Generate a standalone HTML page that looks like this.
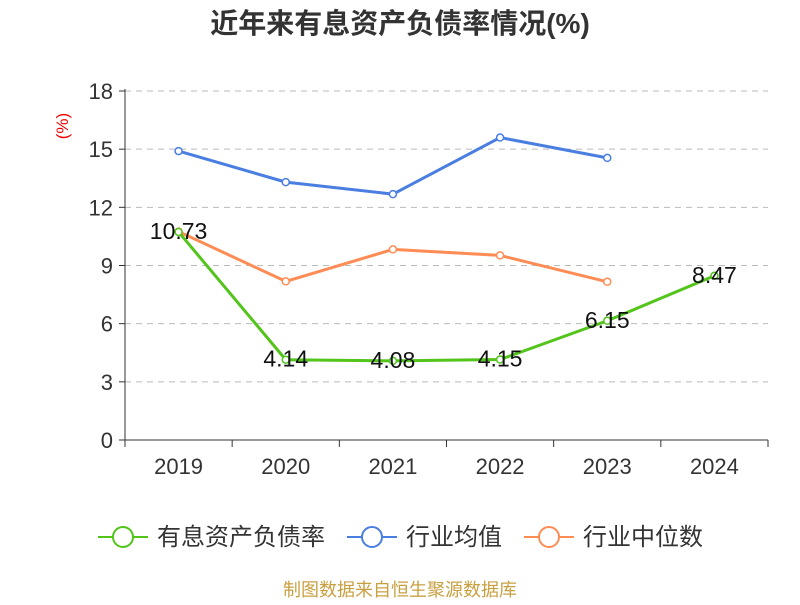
<!DOCTYPE html>
<html><head><meta charset="utf-8"><style>
body{margin:0;background:#fff;}
svg text{font-family:"Liberation Sans","Noto Sans CJK SC",sans-serif;}
</style></head><body>
<svg width="800" height="600" xmlns="http://www.w3.org/2000/svg">
<text x="400" y="33" text-anchor="middle" font-size="28" font-weight="bold" fill="#333">近年来有息资产负债率情况(%)</text>
<text x="68" y="126" font-size="17" fill="#e00" text-anchor="middle" transform="rotate(-90 68 126)">(%)</text>
<g id="grid"></g><g id="axes"></g><g id="series"></g>
<g>
 <g><line x1="98" y1="537" x2="148" y2="537" stroke="#52c41a" stroke-width="2"/><circle cx="123" cy="537" r="10" fill="#fff" stroke="#52c41a" stroke-width="2"/><text x="157" y="545" font-size="24" fill="#333">有息资产负债率</text></g>
 <g><line x1="347" y1="537" x2="397" y2="537" stroke="#4a7ee0" stroke-width="2"/><circle cx="372" cy="537" r="10" fill="#fff" stroke="#4a7ee0" stroke-width="2"/><text x="406" y="545" font-size="24" fill="#333">行业均值</text></g>
 <g><line x1="524" y1="537" x2="574" y2="537" stroke="#ff8c55" stroke-width="2"/><circle cx="549" cy="537" r="10" fill="#fff" stroke="#ff8c55" stroke-width="2"/><text x="583" y="545" font-size="24" fill="#333">行业中位数</text></g>
</g>
<text x="400" y="596" text-anchor="middle" font-size="18" fill="#c8a040">制图数据来自恒生聚源数据库</text>
</svg>
<script>
const categories=["2019","2020","2021","2022","2023","2024"];
const debtRatio=[10.73,4.14,4.08,4.15,6.15,8.47];
const industryAvg=[14.9,13.3,12.68,15.6,14.55,null];
const industryMedian=[10.75,8.18,9.83,9.52,8.16,null];
const yTicks=[0,3,6,9,12,15,18];
const NS="http://www.w3.org/2000/svg";
const L=125,R=768,T=91,B=440,yMax=18;
const bw=(R-L)/categories.length;
const x=i=>L+bw*(i+0.5);
const y=v=>B-(v/yMax)*(B-T);
function mk(tag,attrs,parent){const e=document.createElementNS(NS,tag);for(const k in attrs)e.setAttribute(k,attrs[k]);parent.appendChild(e);return e;}
const grid=document.getElementById('grid'),axes=document.getElementById('axes'),series=document.getElementById('series');
yTicks.forEach(t=>{
 if(t>0){const g=mk('line',{x1:L,x2:R,y1:y(t),y2:y(t),stroke:'#bbb','stroke-dasharray':'6,5'},grid);
 
 }
 const tk=mk('line',{x1:L-6,x2:L,y1:y(t),y2:y(t),stroke:'#333'},axes);
 
 
 const lb=mk('text',{x:L-12,y:y(t)+8,'text-anchor':'end','font-size':22,fill:'#333'},axes);lb.textContent=t;
 
 
});
const ya=mk('line',{x1:L,x2:L,y1:T-2,y2:B,stroke:'#333'},axes);


const xa=mk('line',{x1:L,x2:R,y1:B,y2:B,stroke:'#333'},axes);


for(let i=0;i<=categories.length;i++){const tk=mk('line',{x1:L+bw*i,x2:L+bw*i,y1:B,y2:B+7,stroke:'#333'},axes);
 
 }
categories.forEach((c,i)=>{const t=mk('text',{x:x(i),y:B+34,'text-anchor':'middle','font-size':22,fill:'#333'},axes);t.textContent=c;
 
 });
function drawSeries(vals,color,name,labels){
 const pts=vals.map((v,i)=>v==null?null:[x(i),y(v)]).filter(p=>p);
 const pl=mk('polyline',{points:pts.map(p=>p.join(',')).join(' '),fill:'none',stroke:color,'stroke-width':3,'stroke-linejoin':'round'},series);
 
 
 vals.forEach((v,i)=>{if(v==null)return;
  const c=mk('circle',{cx:x(i),cy:y(v),r:3.5,fill:'#fff',stroke:color,'stroke-width':1.5},series);
  
  
  if(labels){const t=mk('text',{x:x(i),y:y(v)+7,'text-anchor':'middle','font-size':23,fill:'#111'},series);t.textContent=v.toFixed(2);
   
   }
 });
}
drawSeries(industryAvg,'#4a7ee0','industry-avg',false);
drawSeries(industryMedian,'#ff8c55','industry-median',false);
drawSeries(debtRatio,'#52c41a','debt-ratio',true);
</script>
</body></html>
